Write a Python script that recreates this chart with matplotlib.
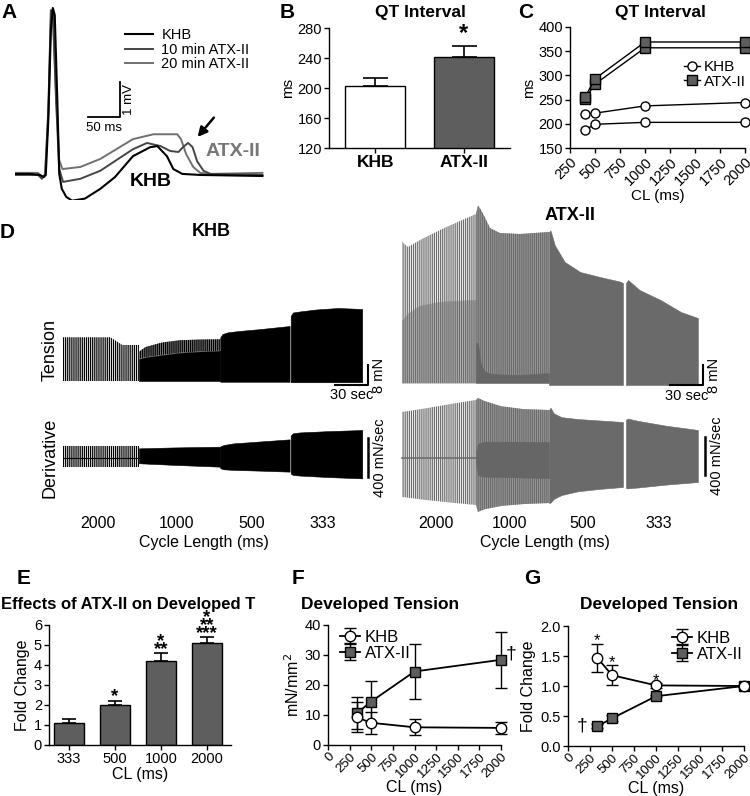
import matplotlib
matplotlib.use("Agg")
import matplotlib.pyplot as plt
import matplotlib.transforms as mtransforms

plt.rcParams['font.family'] = ['Liberation Sans', 'DejaVu Sans']
plt.rcParams['hatch.linewidth'] = 0.9
plt.rcParams['axes.linewidth'] = 1.0
plt.rcParams['xtick.major.width'] = 1.0
plt.rcParams['ytick.major.width'] = 1.0
plt.rcParams['xtick.major.size'] = 3.5
plt.rcParams['ytick.major.size'] = 3.5

W, H = 750, 796
GRAY = '#5e5e5e'

# ---------------- data ----------------
# A: ECG traces (ms, mV)
ecg_t_khb = [0, 23, 39, 45, 48, 52, 56, 59, 62, 66, 69, 73, 80, 89, 109, 133, 156, 184, 211, 222, 237, 247, 261, 289, 386]
ecg_v_khb = [0, 0, -0.03, -0.09, -0.03, 1.57, 4.14, 4.77, 4.57, 2.14, 0, -0.43, -0.66, -0.77, -0.71, -0.43, -0.09, 0.51, 0.77, 0.8, 0.51, 0.14, 0, -0.03, -0.06]
ecg_t_10 = [0, 36, 42, 47, 52, 56, 59, 64, 69, 75, 102, 133, 184, 206, 227, 242, 255, 262, 270, 277, 284, 294, 305, 386]
ecg_v_10 = [-0.03, -0.03, -0.14, -0.03, 1.86, 4.71, 4.66, 2.14, 0.14, -0.23, -0.14, 0.09, 0.71, 0.89, 0.8, 0.66, 0.63, 0.77, 0.89, 0.77, 0.37, 0.09, 0, -0.03]
ecg_t_20 = [0, 36, 42, 47, 52, 56, 59, 64, 69, 74, 102, 133, 184, 216, 253, 259, 267, 278, 289, 305, 386]
ecg_v_20 = [0.03, 0.03, -0.11, 0, 1.7, 4.6, 4.7, 2.3, 0.4, 0.14, 0.2, 0.43, 1.0, 1.14, 1.14, 1.0, 0.57, 0.2, 0.03, 0, 0.03]

# B: QT interval
qt_groups = ['KHB', 'ATX-II']
qt_mean = [203, 241]
qt_err = [10, 15]

# C: QT interval vs cycle length (two recordings per group)
cl_c = [400, 500, 1000, 2000]
khb_c1 = [187, 199, 203, 203]
khb_c2 = [220, 222, 237, 244]
atx_c1 = [251, 282, 357, 357]
atx_c2 = [255, 293, 369, 369]

# D: envelopes of the force traces (time s, tension mN / derivative mN/s)
d_cl_labels = ['2000', '1000', '500', '333']
khb_seg_t = [(0, 69), (69, 143), (143, 206), (207, 272)]
atx_seg_t = [(0, 67.3), (67.3, 133.6), (133.6, 200.9), (203.6, 269)]

khbT_2000_t = [0, 43, 54, 69]
khbT_2000_top = [17.5, 17.5, 14.4, 14.4]
khbT_1000_t = [69, 75, 90, 106, 125, 143]
khbT_1000_low = [8.8, 9.5, 10.4, 11.3, 11.8, 12.1]
khbT_1000_top = [11.7, 13.6, 15.4, 16.3, 16.6, 16.7]
khbT_500_t = [143, 145, 150, 160, 180, 206]
khbT_500_top = [17.5, 18.8, 19.5, 20.0, 20.8, 22.0]
khbT_333_t = [207, 209, 215, 230, 250, 272]
khbT_333_top = [26.0, 27.4, 27.8, 28.6, 29.2, 28.8]

khbD_2000_t = [0, 69]
khbD_2000_top = [123, 123]
khbD_2000_bot = [-89, -89]
khbD_1000_t = [69, 100, 143]
khbD_1000_top = [99, 108, 116]
khbD_1000_bot = [-54, -70, -89]
khbD_500_t = [143, 146, 155, 180, 206]
khbD_500_top = [118, 133, 150, 170, 191]
khbD_500_bot = [-105, -116, -122, -130, -140]
khbD_333_t = [207, 209, 215, 240, 272]
khbD_333_top = [230, 253, 262, 275, 287]
khbD_333_bot = [-160, -174, -180, -195, -209]

atxT_2000_t = [0, 1, 5.5, 16.4, 34.5, 52.7, 67.3]
atxT_2000_top = [57, 56, 54.4, 57.2, 61.2, 64.8, 67.6]
atxT_2000_light = [25, 25.5, 28, 31, 32.5, 33, 33.2]
atxT_1000_t = [67.3, 69, 71.5, 74.5, 80, 89, 107, 133.6]
atxT_1000_top = [67.6, 71, 69.5, 67, 62, 60, 59.6, 60.4]
atxT_1000_dark = [16, 16, 8, 4.8, 3.8, 3.4, 3.2, 4.0]
atxT_500_t = [133.6, 135, 139, 148, 162, 180, 198, 200.9]
atxT_500_top = [60.4, 61, 55, 48.4, 44.4, 42.4, 40.6, 40]
atxT_333_t = [203.6, 205.5, 216, 235, 253.6, 269]
atxT_333_top = [40, 41.2, 37.2, 33.2, 28.4, 26]

atxD_2000_t = [0, 20, 45, 67.3]
atxD_2000_top = [484, 520, 570, 611]
atxD_2000_bot = [-410, -440, -470, -495]
atxD_1000_t = [67.3, 69, 75, 90, 110, 133.6]
atxD_1000_top = [611, 632, 600, 545, 515, 505]
atxD_1000_bot = [-495, -568, -540, -505, -485, -474]
atxD_1000_in_top = [60, 150, 172, 172, 170, 168]
atxD_1000_in_bot = [-60, -180, -197, -200, -205, -210]
atxD_500_t = [133.6, 135, 138, 145, 160, 180, 200.9]
atxD_500_top = [505, 530, 470, 430, 410, 395, 379]
atxD_500_bot = [-474, -470, -430, -390, -350, -325, -305]
atxD_333_t = [203.6, 205, 215, 240, 269]
atxD_333_top = [400, 415, 390, 340, 295]
atxD_333_bot = [-316, -320, -310, -280, -253]

# E: fold change
cl_e = ['333', '500', '1000', '2000']
fold_e = [1.12, 2.0, 4.2, 5.1]
fold_e_err = [0.16, 0.22, 0.38, 0.3]
stars_e = ['', '*', '*\n**', '*\n**\n***']

# F / G: developed tension
cl_fg = [333, 500, 1000, 2000]
khb_f = [9.2, 7.4, 5.9, 5.7]
khb_f_err = [5.0, 3.7, 2.65, 2.0]
atx_f = [10.6, 14.5, 24.5, 28.4]
atx_f_err = [5.3, 6.9, 9.2, 9.3]
khb_g = [1.47, 1.18, 1.01, 1.0]
khb_g_err = [0.235, 0.17, 0.04, 0.02]
atx_g = [0.33, 0.46, 0.83, 1.0]
atx_g_err = [0.03, 0.05, 0.02, 0.02]
stars_g = ['*', '*', '*', '']

fig = plt.figure(figsize=(W / 100, H / 100), dpi=100)


def box(x0, y0, x1, y1):
    return [x0 / W, 1 - y1 / H, (x1 - x0) / W, (y1 - y0) / H]


def ftext(x, y, s, **kw):
    kw.setdefault('ha', 'center')
    kw.setdefault('va', 'center')
    fig.text(x / W, 1 - y / H, s, **kw)


def style(ax, fs=10.5):
    for s in ['top', 'right']:
        ax.spines[s].set_visible(False)
    ax.tick_params(labelsize=fs, pad=1.5)


def scaled_axes(px_box, x_origin, y_origin, sx, sy):
    ax = fig.add_axes(box(*px_box))
    x0, y0, x1, y1 = px_box
    ax.set_xlim((x0 - x_origin) / sx, (x1 - x_origin) / sx)
    ax.set_ylim((y_origin - y1) / sy, (y_origin - y0) / sy)
    ax.axis('off')
    return ax


def seg(ax, t, lo, hi, face, stripe=None):
    if stripe is None:
        ax.fill_between(t, lo, hi, facecolor=face, edgecolor=face, lw=0.4)
    else:
        ax.fill_between(t, lo, hi, facecolor=face, edgecolor=stripe, hatch='|' * 8, lw=0)


# panel letters
for letter, (x, y) in zip('ABCDEFG', [(9, 13), (287, 13), (526, 13), (7, 233),
                                      (24, 578), (298, 578), (532, 578)]):
    ftext(x, y, letter, fontsize=15, fontweight='bold')

# ---------------- A ----------------
axA = fig.add_axes(box(15, 0, 265, 200))
axA.set_xlim(0, 390)
axA.set_ylim(-0.75, 5.0)
axA.axis('off')
l20, = axA.plot(ecg_t_20, ecg_v_20, color='#707070', lw=1.4, label='20 min ATX-II')
l10, = axA.plot(ecg_t_10, ecg_v_10, color='#454545', lw=1.4, label='10 min ATX-II')
lk, = axA.plot(ecg_t_khb, ecg_v_khb, color='black', lw=1.5, label='KHB')
axA.legend(handles=[lk, l10, l20], loc='upper left', bbox_to_anchor=(0.44, 0.86),
           frameon=False, fontsize=10.5, handlelength=1.9, handletextpad=0.6,
           labelspacing=0.05, borderpad=0, borderaxespad=0)
axA.plot([114, 164, 164], [1.63, 1.63, 2.63], color='k', lw=1.3)
axA.text(139, 1.5, '50 ms', ha='center', va='top', fontsize=9.5)
axA.text(168, 2.13, '1 mV', ha='left', va='center', rotation=90, fontsize=9.5)
axA.text(340, 0.63, 'ATX-II', ha='center', va='center', fontsize=14,
         fontweight='bold', color='#777777')
axA.text(211, -0.23, 'KHB', ha='center', va='center', fontsize=14, fontweight='bold')
axA.annotate('', xy=(282, 1.0), xytext=(313, 1.68),
             arrowprops=dict(arrowstyle='-|>', color='k', lw=1.8, mutation_scale=14))

# ---------------- B ----------------
axB = fig.add_axes(box(329, 28, 510, 148))
style(axB)
axB.bar([0, 1], qt_mean, width=0.67, color=['white', GRAY], edgecolor='black', lw=1)
axB.errorbar([0, 1], qt_mean, yerr=[[0, 0], qt_err], fmt='none', ecolor='black',
             elinewidth=1.2, capsize=9, capthick=1.2)
axB.set_ylim(120, 280)
axB.set_xlim(-0.52, 1.52)
axB.set_yticks([120, 160, 200, 240, 280])
axB.set_xticks([0, 1])
axB.set_xticklabels(qt_groups, fontsize=12.5, fontweight='bold')
axB.set_ylabel('ms', fontsize=11, labelpad=2)
axB.text(1, 273, '*', ha='center', va='center', fontsize=17, fontweight='bold')
ftext(420, 13, 'QT Interval', fontsize=12.5, fontweight='bold')

# ---------------- C ----------------
axC = fig.add_axes(box(570, 27, 745, 148))
style(axC)
kw_o = dict(marker='o', color='black', mfc='white', mec='black', ms=6.5, lw=1, clip_on=False)
kw_s = dict(marker='s', color='black', mfc=GRAY, mec='black', ms=6.5, lw=1, clip_on=False)
axC.plot(cl_c, khb_c1, **kw_o)
axC.plot(cl_c, khb_c2, label='KHB', **kw_o)
axC.plot(cl_c, atx_c1, **kw_s)
axC.plot(cl_c, atx_c2, label='ATX-II', **kw_s)
axC.set_xlim(250, 2000)
axC.set_ylim(150, 400)
axC.set_xticks(range(250, 2001, 250))
axC.set_yticks(range(150, 401, 50))
plt.setp(axC.get_xticklabels(), rotation=45, ha='right', rotation_mode='anchor')
axC.set_xlabel('CL (ms)', fontsize=11, labelpad=1)
axC.set_ylabel('ms', fontsize=11, labelpad=2)
axC.legend(loc='upper right', bbox_to_anchor=(1.05, 0.79), frameon=False, fontsize=11,
           handlelength=1.0, handletextpad=0.3, labelspacing=0.05, borderpad=0)
ftext(660, 13, 'QT Interval', fontsize=12.5, fontweight='bold')

# ---------------- D ----------------
ftext(211, 232, 'KHB', fontsize=13, fontweight='bold')
ftext(570, 215, 'ATX-II', fontsize=13, fontweight='bold')
ftext(50, 350, 'Tension', rotation=90, fontsize=13)
ftext(50, 458, 'Derivative', rotation=90, fontsize=13)
ftext(204, 543, 'Cycle Length (ms)', fontsize=11.5)
ftext(545, 543, 'Cycle Length (ms)', fontsize=11.5)

# KHB tension
axKT = scaled_axes((60, 295, 390, 405), 63, 381, 1.1, 2.5)
seg(axKT, khbT_2000_t, 0, khbT_2000_top, 'white', 'black')
seg(axKT, khbT_1000_t, khbT_1000_low, khbT_1000_top, '#8a8a8a', 'black')
seg(axKT, khbT_1000_t, 0, khbT_1000_low, 'black')
seg(axKT, khbT_500_t, -0.3, khbT_500_top, 'black')
seg(axKT, khbT_333_t, -0.5, khbT_333_top, 'black')
axKT.plot([247.3, 277.3, 277.3], [-1.6, -1.6, 6.4], color='k', lw=1.5, clip_on=False)
axKT.text(262, -3.0, '30 sec', ha='center', va='top', fontsize=10.5)
axKT.text(281, 2.4, '8 mN', ha='left', va='center', rotation=90, fontsize=10.5)

# KHB derivative
axKD = scaled_axes((60, 420, 390, 490), 63, 458, 1.1, 0.0975)
seg(axKD, khbD_2000_t, khbD_2000_bot, khbD_2000_top, 'white', 'black')
axKD.plot(khbD_2000_t, [0, 0], color='k', lw=0.8)
seg(axKD, khbD_1000_t, khbD_1000_bot, khbD_1000_top, 'black')
seg(axKD, khbD_500_t, khbD_500_bot, khbD_500_top, 'black')
seg(axKD, khbD_333_t, khbD_333_bot, khbD_333_top, 'black')
axKD.plot([277.3, 277.3], [-195, 205], color='k', lw=1.8, clip_on=False)
axKD.text(282, 0, '400 mN/sec', ha='left', va='center', rotation=90, fontsize=10.5)

# ATX tension
axAT = scaled_axes((398, 200, 730, 405), 402, 383, 1.1, 2.5)
seg(axAT, atxT_2000_t, 0, atxT_2000_light, '#b8b8b8')
seg(axAT, atxT_2000_t, 0, atxT_2000_top, 'none', '#6e6e6e')
seg(axAT, atxT_1000_t, 0, atxT_1000_top, '#a0a0a0', '#6a6a6a')
seg(axAT, atxT_1000_t, 0, atxT_1000_dark, '#666666')
seg(axAT, atxT_500_t, -0.8, atxT_500_top, '#6a6a6a')
seg(axAT, atxT_333_t, -0.8, atxT_333_top, '#6a6a6a')
axAT.plot([243.6, 273.6, 273.6], [-0.8, -0.8, 7.2], color='k', lw=1.5, clip_on=False)
axAT.text(258.6, -2.4, '30 sec', ha='center', va='top', fontsize=10.5)
axAT.text(277, 3.2, '8 mN', ha='left', va='center', rotation=90, fontsize=10.5)

# ATX derivative
axAD = scaled_axes((398, 395, 730, 520), 402, 458, 1.1, 0.095)
seg(axAD, atxD_2000_t, atxD_2000_bot, atxD_2000_top, 'white', '#6e6e6e')
axAD.plot(atxD_2000_t, [0] * len(atxD_2000_t), color='#6e6e6e', lw=1.2)
seg(axAD, atxD_1000_t, atxD_1000_bot, atxD_1000_top, '#a0a0a0', '#6a6a6a')
seg(axAD, atxD_1000_t, atxD_1000_in_bot, atxD_1000_in_top, '#666666')
seg(axAD, atxD_500_t, atxD_500_bot, atxD_500_top, '#6a6a6a')
seg(axAD, atxD_333_t, atxD_333_bot, atxD_333_top, '#6a6a6a')
axAD.plot([275.5, 275.5], [-179, 221], color='k', lw=1.8, clip_on=False)
axAD.text(280, 20, '400 mN/sec', ha='left', va='center', rotation=90, fontsize=10.5)

# cycle length labels under each segment
for ax, segs in [(axKD, khb_seg_t), (axAD, atx_seg_t)]:
    tr = mtransforms.blended_transform_factory(ax.transData, fig.transFigure)
    for lab, (t0, t1) in zip(d_cl_labels, segs):
        ax.text((t0 + t1) / 2 - 3, 1 - 523 / H, lab, transform=tr,
                ha='center', va='center', fontsize=11.5)

# ---------------- E ----------------
axE = fig.add_axes(box(49, 625, 231, 745))
style(axE)
xe = list(range(len(cl_e)))
axE.bar(xe, fold_e, width=0.66, color=GRAY, edgecolor='black', lw=1)
axE.errorbar(xe, fold_e, yerr=[[0] * 4, fold_e_err], fmt='none', ecolor='black',
             elinewidth=1.2, capsize=5, capthick=1.2)
axE.set_xlim(-0.43, 3.52)
axE.set_ylim(0, 6)
axE.set_yticks(range(0, 7))
axE.set_xticks(xe)
axE.set_xticklabels(cl_e)
axE.set_xlabel('CL (ms)', fontsize=11.5, labelpad=1)
axE.set_ylabel('Fold Change', fontsize=11.5, labelpad=3)
for x, m, e, s in zip(xe, fold_e, fold_e_err, stars_e):
    if s:
        axE.annotate(s, xy=(x, m + e), xytext=(0, -3.5), textcoords='offset points',
                     ha='center', va='bottom', fontsize=13.5, fontweight='bold',
                     linespacing=0.3)
ftext(1, 604, 'Effects of ATX-II on Developed T', ha='left', fontsize=12, fontweight='bold')

# ---------------- F ----------------
kw_o = dict(marker='o', color='black', mfc='white', mec='black', ms=7.5, lw=1.3,
            ecolor='black', elinewidth=1, capsize=4, capthick=1, clip_on=False)
kw_s = dict(marker='s', color='black', mfc=GRAY, mec='black', ms=7.5, lw=1.3,
            ecolor='black', elinewidth=1, capsize=4, capthick=1, clip_on=False)

axF = fig.add_axes(box(328, 625, 501, 745))
style(axF)
axF.errorbar(cl_fg, atx_f, yerr=atx_f_err, label='ATX-II', **kw_s)
axF.errorbar(cl_fg, khb_f, yerr=khb_f_err, label='KHB', **kw_o)
axF.set_xlim(0, 2000)
axF.set_ylim(0, 40)
axF.set_xticks(range(0, 2001, 250))
axF.set_yticks(range(0, 41, 10))
axF.tick_params(axis='x', labelsize=9.5, pad=0.5)
plt.setp(axF.get_xticklabels(), rotation=45, ha='right', rotation_mode='anchor')
axF.set_xlabel('CL (ms)', fontsize=11.5, labelpad=0)
axF.set_ylabel('mN/mm$^2$', fontsize=11.5, labelpad=2)
h, lab = axF.get_legend_handles_labels()
axF.legend(h[::-1], lab[::-1], loc='upper left', bbox_to_anchor=(0.02, 1.03), frameon=False,
           fontsize=12, handlelength=1.2, handletextpad=0.3, labelspacing=0.05, borderpad=0)
axF.annotate('\u2020', xy=(cl_fg[-1], atx_f[-1]), xytext=(10, 6), textcoords='offset pixels',
             ha='center', va='center', fontsize=14)
ftext(380, 604, 'Developed Tension', fontsize=12.5, fontweight='bold')

# ---------------- G ----------------
axG = fig.add_axes(box(568, 626, 744, 746))
style(axG)
axG.errorbar(cl_fg, atx_g, yerr=atx_g_err, label='ATX-II', **kw_s)
axG.errorbar(cl_fg, khb_g, yerr=khb_g_err, label='KHB', **kw_o)
axG.set_xlim(0, 2000)
axG.set_ylim(0, 2.0)
axG.set_xticks(range(0, 2001, 250))
axG.set_yticks([0, 0.5, 1.0, 1.5, 2.0])
axG.set_yticklabels(['0.0', '0.5', '1.0', '1.5', '2.0'])
axG.tick_params(axis='x', labelsize=9.5, pad=0.5)
plt.setp(axG.get_xticklabels(), rotation=45, ha='right', rotation_mode='anchor')
axG.set_xlabel('CL (ms)', fontsize=11.5, labelpad=0)
axG.set_ylabel('Fold Change', fontsize=11.5, labelpad=3)
h, lab = axG.get_legend_handles_labels()
axG.legend(h[::-1], lab[::-1], loc='upper right', bbox_to_anchor=(1.04, 1.03), frameon=False,
           fontsize=12, handlelength=1.2, handletextpad=0.3, labelspacing=0.05, borderpad=0)
for x, m, e, s in zip(cl_fg, khb_g, khb_g_err, stars_g):
    if s:
        axG.annotate(s, xy=(x, m + e), xytext=(0, -3.5), textcoords='offset points',
                     ha='center', va='bottom', fontsize=12)
axG.annotate('\u2020', xy=(cl_fg[0], atx_g[0]), xytext=(-15, 0), textcoords='offset pixels',
             ha='center', va='center', fontsize=14)
ftext(659, 604, 'Developed Tension', fontsize=12.5, fontweight='bold')

fig.savefig('out.png', dpi=100)
